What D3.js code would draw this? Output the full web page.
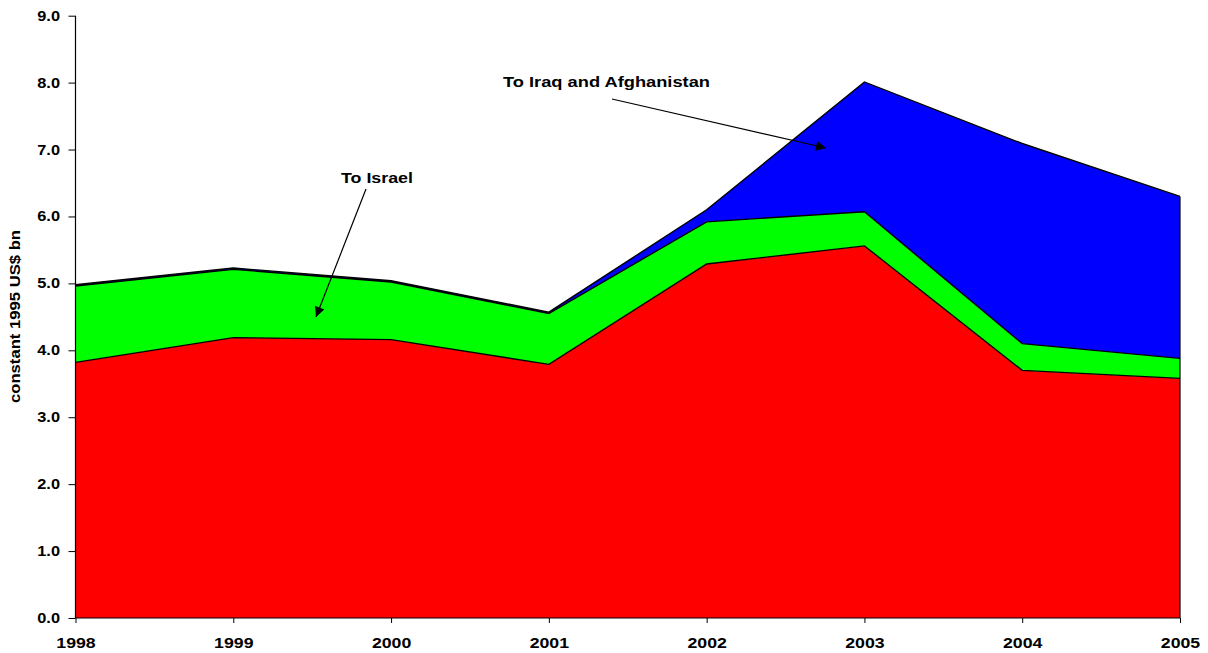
<!DOCTYPE html>
<html><head><meta charset="utf-8">
<script src="https://cdn.jsdelivr.net/npm/d3@7"></script>
<style>
html,body{margin:0;padding:0;background:#fff;}
svg{display:block;font-family:Arial,"Liberation Sans",sans-serif;}
</style></head>
<body>
<svg id="chart" width="1208" height="653"></svg>
<script>
const years = ["1998","1999","2000","2001","2002","2003","2004","2005"];
const otherValues = [3.82, 4.19, 4.16, 3.79, 5.29, 5.56, 3.70, 3.58];
const israelValues = [1.14, 1.02, 0.86, 0.76, 0.63, 0.51, 0.40, 0.30];
const iraqAfghanValues = [0.02, 0.02, 0.02, 0.02, 0.18, 1.94, 2.99, 2.42];
const yTicks = [0,1,2,3,4,5,6,7,8,9];
const yLabel = "constant 1995 US$ bn";
const annotIraq = "To Iraq and Afghanistan";
const annotIsrael = "To Israel";

(function(){
const svg = d3.select("#chart");
const pL = 75.5, pR = 1180, pT = 15.7, pB = 618;
const FONT = "Arial, 'Liberation Sans', sans-serif";
const x = d3.scalePoint().domain(years).range([pL, pR]);
const y = d3.scaleLinear().domain([0, 9]).range([pB, pT]);

function stretch(sel, factor) {
  sel.each(function() {
    const L = this.getComputedTextLength();
    d3.select(this).attr("textLength", L * factor).attr("lengthAdjust", "spacingAndGlyphs");
  });
}

const rows = years.map((yr, i) => ({year: yr, other: otherValues[i], israel: israelValues[i], iraq: iraqAfghanValues[i]}));
const keys = ["other", "israel", "iraq"];
const colors = {other: "#ff0000", israel: "#00ff00", iraq: "#0000ff"};
const stack = d3.stack().keys(keys)(rows);

const area = d3.area().x(d => x(d.data.year)).y0(d => y(d[0])).y1(d => y(d[1]));
const line = d3.line().x(d => x(d.data.year)).y(d => y(d[1]));

svg.append("defs").append("marker").attr("id", "arr").attr("viewBox", "0 0 10 10")
  .attr("refX", 10).attr("refY", 5).attr("markerWidth", 13).attr("markerHeight", 10)
  .attr("markerUnits", "userSpaceOnUse").attr("orient", "auto")
  .append("path").attr("d", "M0,0 L10,5 L0,10 Z").attr("fill", "#000");

stack.forEach(s => {
  svg.append("path").datum(s).attr("d", area).attr("fill", colors[s.key]).attr("stroke", "none");
});
stack.forEach(s => {
  svg.append("path").datum(s).attr("d", line).attr("fill", "none").attr("stroke", "#000").attr("stroke-width", 1.4);
});
const lastYear = years[years.length-1];
const last = stack[stack.length - 1][years.length - 1];
svg.append("line").attr("x1", x(lastYear)).attr("x2", x(lastYear))
  .attr("y1", y(0)).attr("y2", y(last[1])).attr("stroke", "#000").attr("stroke-width", 1.2);

const yAxis = d3.axisLeft(y).tickValues(yTicks).tickFormat(d3.format(".1f")).tickSize(7).tickPadding(8.5);
const gy = svg.append("g").attr("transform", `translate(${pL},0)`).call(yAxis);
gy.select(".domain").attr("stroke", "#000").attr("stroke-width", 1.2).attr("d", `M0,${pT}V${pB}`);
gy.selectAll(".tick line").attr("stroke", "#000");
gy.selectAll("text").attr("font-size", 15).attr("font-weight", "bold").attr("fill", "#000")
  .attr("font-family", FONT).attr("dy", "0.3em");
stretch(gy.selectAll("text"), 1.09);

const xAxis = d3.axisBottom(x).tickSize(5).tickPadding(14);
const gx = svg.append("g").attr("transform", `translate(0,${pB})`).call(xAxis);
gx.select(".domain").attr("stroke", "#000").attr("stroke-width", 1.2).attr("d", `M${pL},0H${pR}`);
gx.selectAll(".tick line").attr("stroke", "#000");
gx.selectAll("text").attr("font-size", 15).attr("font-weight", "bold").attr("fill", "#000")
  .attr("font-family", FONT);
stretch(gx.selectAll("text"), 1.18);

const yl = svg.append("text").attr("transform", "translate(20,316.5) rotate(-90)").attr("text-anchor", "middle")
  .attr("font-size", 14.5).attr("font-weight", "bold").attr("font-family", FONT).text(yLabel);
yl.attr("textLength", 173).attr("lengthAdjust", "spacingAndGlyphs");

svg.append("text").attr("x", 503).attr("y", 87).attr("font-size", 15.5).attr("font-weight", "bold")
  .attr("font-family", FONT).attr("textLength", 207).attr("lengthAdjust", "spacingAndGlyphs").text(annotIraq);
svg.append("line").attr("x1", 612).attr("y1", 99).attr("x2", 826).attr("y2", 148)
  .attr("stroke", "#000").attr("stroke-width", 1.2).attr("marker-end", "url(#arr)");
svg.append("text").attr("x", 341).attr("y", 182.5).attr("font-size", 15.5).attr("font-weight", "bold")
  .attr("font-family", FONT).attr("textLength", 72).attr("lengthAdjust", "spacingAndGlyphs").text(annotIsrael);
svg.append("line").attr("x1", 366).attr("y1", 189).attr("x2", 316).attr("y2", 317)
  .attr("stroke", "#000").attr("stroke-width", 1.2).attr("marker-end", "url(#arr)");
})();
</script>
</body></html>
